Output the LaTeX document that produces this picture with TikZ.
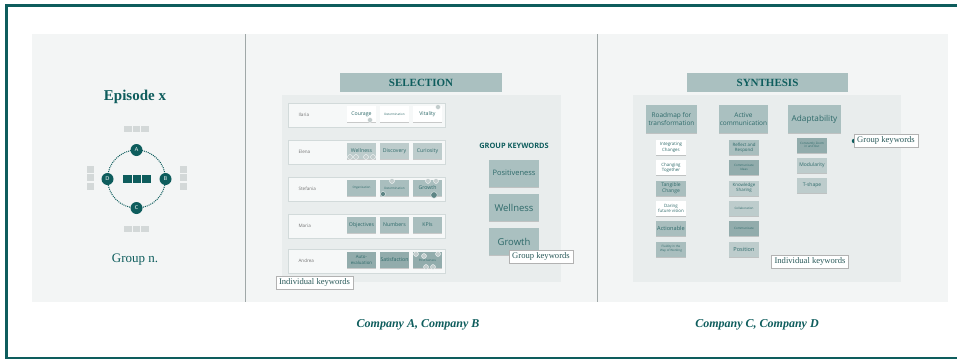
\documentclass[tikz,border=0pt]{standalone}
\usepackage{fontspec}
\setmainfont{Liberation Serif}
\newfontfamily\stickyfont{Open Sans}
\usetikzlibrary{shadows}

\definecolor{deepteal}{HTML}{0E5D5D}
\definecolor{inkteal}{HTML}{2E6A6A}
\definecolor{labelink}{HTML}{2A5A5A}
\definecolor{panelbg}{HTML}{F3F5F5}
\definecolor{boardbg}{HTML}{E9EDED}
\definecolor{rowfill}{HTML}{F6F8F8}
\definecolor{rowline}{HTML}{D2DADA}
\definecolor{stickyA}{HTML}{BDCCCC}
\definecolor{stickyB}{HTML}{A9BEBE}
\definecolor{stickyC}{HTML}{92ACAC}
\definecolor{headfill}{HTML}{AAC0C0}
\definecolor{seatgray}{HTML}{D3D8D8}
\definecolor{divider}{HTML}{A0A8A8}
\definecolor{dotlight}{HTML}{C3CDCD}
\definecolor{dotdark}{HTML}{5E8585}

\tikzset{
  sticky/.style={rectangle, inner sep=0.5pt, align=center, text=inkteal,
    font=\stickyfont\fontsize{5.2}{6}\selectfont,
    drop shadow={shadow xshift=0pt, shadow yshift=-1.1pt, opacity=.35, fill=black!55}},
  rowsticky/.style={sticky, minimum width=29pt, minimum height=16pt},
  itemsticky/.style={sticky, minimum width=30pt, minimum height=15pt,
    font=\stickyfont\fontsize{4.4}{5.2}\selectfont},
  tiny/.style={font=\stickyfont\fontsize{3}{3.6}\selectfont},
  callout/.style={rectangle, draw=black!30, fill=white, line width=.5pt,
    inner xsep=3pt, inner ysep=2.5pt, text=labelink, font=\fontsize{8.6}{10}\selectfont},
  header/.style={rectangle, fill=headfill, minimum height=19pt, text=deepteal,
    font=\bfseries\fontsize{11}{13}\selectfont},
  seat/.style={circle, fill=deepteal, minimum size=12pt, inner sep=0pt, text=white,
    font=\sffamily\fontsize{5.5}{6}\selectfont},
  chair/.style={rectangle, fill=seatgray, inner sep=0pt},
  tablepart/.style={rectangle, fill=deepteal, inner sep=0pt, minimum width=8.5pt, minimum height=8pt},
  dotsticker/.style={circle, fill=dotlight, draw=white, line width=.3pt, inner sep=0pt, minimum size=5pt},
  darksticker/.style={dotsticker, fill=dotdark, minimum size=6.5pt},
  namelabel/.style={anchor=west, text=black!55, font=\stickyfont\fontsize{4.6}{5.5}\selectfont},
  caption/.style={text=deepteal, font=\bfseries\itshape\fontsize{12}{14}\selectfont},
}

\begin{document}
\begin{tikzpicture}[x=1pt, y=-1pt]
\useasboundingbox (0,0) rectangle (957,359);
\fill[white] (0,0) rectangle (957,359);

% outer frame
\draw[deepteal, line width=3pt] (5,5.5) -- (957,5.5);
\draw[deepteal, line width=3pt] (6.5,4) -- (6.5,359);
\draw[deepteal, line width=2pt] (5,357.5) -- (957,357.5);

% light panel and dividers
\fill[panelbg] (32,34) rectangle (948,302);
\draw[divider, line width=.8pt] (245,34) -- (245,302);
\draw[divider, line width=.8pt] (597,34) -- (597,302);

% ---------------- episode panel ----------------
\node[text=deepteal, font=\bfseries\fontsize{15}{18}\selectfont] (episode) at (135,97) {Episode x};
\node[text=deepteal, font=\fontsize{13}{16}\selectfont] (group) at (135,260) {Group n.};

\coordinate (tablec) at (136.5,179);
\draw[deepteal, line width=1pt, densely dotted] (tablec) circle[radius=29];
\node[tablepart] (t1) at (127.5,179) {};
\node[tablepart] (t2) at (137,179) {};
\node[tablepart] (t3) at (146.5,179) {};

\node[seat] (sA) at (136.5,150) {A};
\node[seat] (sB) at (165.5,179) {B};
\node[seat] (sC) at (136.5,208) {C};
\node[seat] (sD) at (107.5,179) {D};

\foreach \i/\x in {1/128,2/136.5,3/145}{
  \node[chair, minimum width=7.5pt, minimum height=6pt] (ct\i) at (\x,129) {};
  \node[chair, minimum width=7.5pt, minimum height=6pt] (cb\i) at (\x,229) {};
}
\foreach \i/\y in {1/169,2/177.5,3/186}{
  \node[chair, minimum width=6.5pt, minimum height=7pt] (cl\i) at (90.5,\y) {};
  \node[chair, minimum width=6.5pt, minimum height=7pt] (cr\i) at (183.5,\y) {};
}

% ---------------- selection panel ----------------
\node[header, minimum width=162pt] (selhead) at (421,82.5) {SELECTION};
\fill[boardbg] (282,95) rectangle (561,282);

\foreach \r/\y/\who in {1/115/Ilaria,2/152/Elena,3/189/Stefania,4/226/Maria,5/261/Andrea}{
  \node[rectangle, draw=rowline, fill=rowfill, line width=.5pt,
        minimum width=157pt, minimum height=24pt, inner sep=0pt] (row\r) at (366.5,\y) {};
  \node[namelabel] (name\r) at (295,\y) {\who};
}

% row 1
\node[rowsticky, fill=white] (k11) at (361.5,114) {Courage};
\node[rowsticky, fill=white, tiny] (k12) at (394.5,114) {Determination};
\node[rowsticky, fill=white] (k13) at (427.5,114) {Vitality};
% row 2
\node[rowsticky, fill=stickyA] (k21) at (361.5,151) {Wellness};
\node[rowsticky, fill=stickyA] (k22) at (394.5,151) {Discovery};
\node[rowsticky, fill=stickyA] (k23) at (427.5,151) {Curiosity};
% row 3
\node[rowsticky, fill=stickyB, tiny] (k31) at (361.5,188) {Organization};
\node[rowsticky, fill=stickyB, tiny] (k32) at (394.5,188) {Determination};
\node[rowsticky, fill=stickyB] (k33) at (427.5,188) {Growth};
% row 4
\node[rowsticky, fill=stickyB] (k41) at (361.5,225) {Objectives};
\node[rowsticky, fill=stickyB] (k42) at (394.5,225) {Numbers};
\node[rowsticky, fill=stickyB] (k43) at (427.5,225) {KPIs};
% row 5
\node[rowsticky, fill=stickyC, font=\stickyfont\fontsize{4.4}{5.2}\selectfont] (k51) at (361.5,260) {Auto-\\evaluation};
\node[rowsticky, fill=stickyC] (k52) at (394.5,260) {Satisfaction};
\node[rowsticky, fill=stickyC, tiny] (k53) at (427.5,260) {Positiveness};

% voting stickers
\node[dotsticker] (d1) at (370,120) {};
\node[dotsticker] (d2) at (438,107) {};
\foreach \i/\x in {1/350,2/356,3/366,4/373}{
  \node[dotsticker] (w\i) at (\x,157) {};
}
\node[dotsticker] (d3) at (392,181) {};
\node[darksticker, minimum size=5pt] (d4) at (383,194) {};
\node[dotsticker] (d5) at (428,181) {};
\node[dotsticker] (d6) at (436,181) {};
\node[darksticker] (d7) at (434,195) {};
\node[dotsticker] (d8) at (416,254) {};
\node[dotsticker] (d9) at (424,256) {};
\node[dotsticker] (d10) at (438,254) {};
\node[dotsticker] (d11) at (426,267) {};
\node[dotsticker] (d12) at (433,267) {};

% group keywords
\node[text=deepteal, font=\stickyfont\bfseries\fontsize{7.4}{9}\selectfont] (gkt) at (514,146) {GROUP KEYWORDS};
\node[sticky, fill=headfill, minimum width=50pt, minimum height=27pt,
      font=\stickyfont\fontsize{7.5}{9}\selectfont] (g1) at (514,173) {Positiveness};
\node[sticky, fill=headfill, minimum width=50pt, minimum height=27pt,
      font=\stickyfont\fontsize{9.5}{11}\selectfont] (g2) at (514,207.5) {Wellness};
\node[sticky, fill=headfill, minimum width=50pt, minimum height=27pt,
      font=\stickyfont\fontsize{9.5}{11}\selectfont] (g3) at (514,241.5) {Growth};

\node[callout] (selgroup) at (541,256.5) {Group keywords};
\node[callout] (selind) at (314.5,282.5) {Individual keywords};

% ---------------- synthesis panel ----------------
\node[header, minimum width=161pt] (synhead) at (767.5,82.5) {SYNTHESIS};
\fill[boardbg] (633,95) rectangle (901,282);

\node[sticky, fill=headfill, minimum width=51pt, minimum height=28pt,
      font=\stickyfont\fontsize{6.5}{8}\selectfont] (h1) at (671.5,119) {Roadmap for\\transformation};
\node[sticky, fill=headfill, minimum width=49pt, minimum height=28pt,
      font=\stickyfont\fontsize{6.5}{8}\selectfont] (h2) at (743.5,119) {Active\\communication};
\node[sticky, fill=headfill, minimum width=53pt, minimum height=28pt,
      font=\stickyfont\fontsize{8.2}{10}\selectfont] (h3) at (814.5,119) {Adaptability};

% roadmap column
\node[itemsticky, fill=white] (r1) at (671,147.5) {Integrating\\Changes};
\node[itemsticky, fill=white] (r2) at (671,167.5) {Changing\\Together};
\node[itemsticky, fill=stickyB, font=\stickyfont\fontsize{5}{5.8}\selectfont] (r3) at (671,188) {Tangible\\Change};
\node[itemsticky, fill=white] (r4) at (671,208.5) {Daring\\future vision};
\node[itemsticky, fill=stickyB, font=\stickyfont\fontsize{5.6}{6.5}\selectfont] (r5) at (671,228.5) {Actionable};
\node[itemsticky, fill=stickyB, tiny] (r6) at (671,249) {Fluidity in the\\Way of Working};

% communication column
\node[itemsticky, fill=stickyB] (c1) at (744,147.5) {Reflect and\\Respond};
\node[itemsticky, fill=stickyC, tiny] (c2) at (744,167.5) {Communicate\\Ideas};
\node[itemsticky, fill=stickyA] (c3) at (744,188) {Knowledge\\Sharing};
\node[itemsticky, fill=stickyA, tiny] (c4) at (744,208.5) {Collaboration};
\node[itemsticky, fill=stickyC, tiny] (c5) at (744,228.5) {Communicate};
\node[itemsticky, fill=stickyA, font=\stickyfont\fontsize{5.6}{6.5}\selectfont] (c6) at (744,249) {Position};

% adaptability column
\node[itemsticky, fill=stickyC, tiny] (a1) at (812,145) {Constantly Zoom\\in and Out};
\node[itemsticky, fill=stickyA, font=\stickyfont\fontsize{5}{6}\selectfont] (a2) at (812,165.5) {Modularity};
\node[itemsticky, fill=stickyA, font=\stickyfont\fontsize{5}{6}\selectfont] (a3) at (812,185) {T-shape};

\node[circle, fill=deepteal, inner sep=0pt, minimum size=4.5pt] (pin) at (854,141) {};
\node[callout] (syngroup) at (886,140.5) {Group keywords};
\node[callout] (synind) at (810,261.5) {Individual keywords};

% ---------------- captions ----------------
\node[caption] (capAB) at (418,325) {Company A, Company B};
\node[caption] (capCD) at (757,325) {Company C, Company D};
\end{tikzpicture}
\end{document}
